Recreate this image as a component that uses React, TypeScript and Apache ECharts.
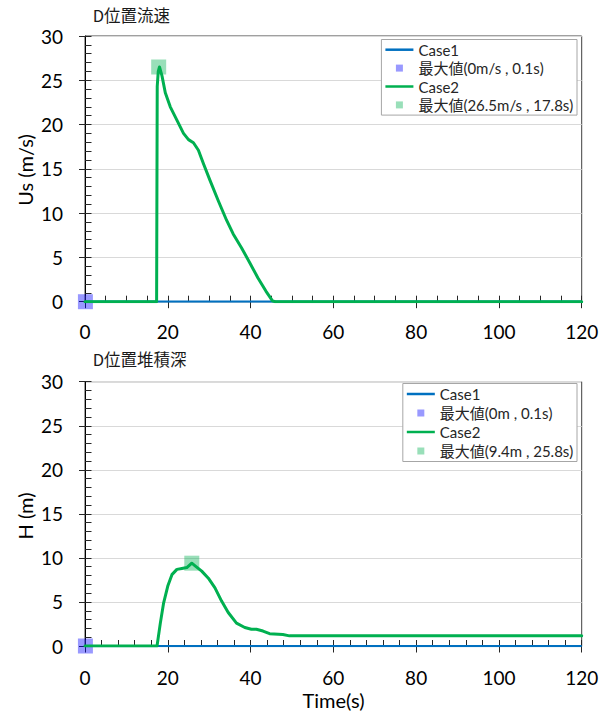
import React, { useEffect, useRef } from 'react';
import * as echarts from 'echarts';

// ---------- data ----------
const case1Time = [0, 20, 40, 60, 80, 100, 120];
const usCase1 = [0, 0, 0, 0, 0, 0, 0];
const hCase1 = [0, 0, 0, 0, 0, 0, 0];

const usCase2Time = [0, 17.3, 17.45, 17.7, 18.0, 18.6, 19.4, 20.6, 22.2, 23.8, 25.0, 26.2, 27.4, 28.6, 30.2, 32.2, 34.2, 35.8, 37.8, 39.8, 41.75, 43.7, 45.3, 46.0, 120];
const usCase2 = [0, 0, 24.3, 26.0, 26.5, 25.5, 23.6, 22.0, 20.5, 19.0, 18.3, 17.95, 17.1, 15.6, 13.7, 11.4, 9.2, 7.65, 6.1, 4.4, 2.7, 1.2, 0.1, 0, 0];

const hCase2Time = [0, 17.4, 18.2, 19.0, 20.0, 21.0, 22.2, 23.4, 24.6, 25.8, 26.6, 28.2, 29.8, 31.4, 33.0, 34.6, 36.6, 38.6, 40.2, 41.4, 43.0, 44.6, 47.8, 49.4, 120];
const hCase2 = [0, 0, 2.6, 4.9, 6.8, 8.1, 8.7, 8.8, 8.9, 9.4, 9.1, 8.5, 7.7, 6.6, 5.1, 3.8, 2.6, 2.1, 1.9, 1.9, 1.7, 1.4, 1.3, 1.15, 1.15];

const usMax1 = [0.1, 0];
const usMax2 = [17.8, 26.5];
const hMax1 = [0.1, 0];
const hMax2 = [25.8, 9.4];

const usLegend = ['Case1', '最大値(0m/s , 0.1s)', 'Case2', '最大値(26.5m/s , 17.8s)'];
const hLegend = ['Case1', '最大値(0m , 0.1s)', 'Case2', '最大値(9.4m , 25.8s)'];

const titles = ['D位置流速', 'D位置堆積深'];
const yNames = ['Us (m/s)', 'H (m)'];
const xName = 'Time(s)';

const X_MIN = 0, X_MAX = 120, X_INTERVAL = 20;
const Y_MIN = 0, Y_MAX = 30, Y_INTERVAL = 5;

// ---------- styles ----------
const FONT = "Lato, 'Noto Sans CJK JP', sans-serif";
const CJK = "'Noto Sans CJK JP', sans-serif";
const BLUE = '#0070C0';
const GREEN = '#00B050';
const BLUE_MK = 'rgba(0,0,255,0.5)';
const GREEN_MK = 'rgba(0,176,80,0.5)';
const TICK = '#262626';
const LINE_ICON = 'path://M0,0L28,0L28,2.5L0,2.5Z';
const SQUARE_ICON = 'path://M0,0L1,0L1,1L0,1Z';

function zip(xs: number[], ys: number[]) {
  return xs.map((x, i) => [x, ys[i]]);
}

function xAxes(gridIndex: number, minorSplit: number, labelMargin: number) {
  return [
    {
      gridIndex, type: 'value', min: X_MIN, max: X_MAX, interval: X_INTERVAL, position: 'bottom',
      axisLine: { show: true, onZero: false, lineStyle: { color: '#000', width: 1 } },
      axisTick: { show: true, inside: true, length: 6, lineStyle: { color: TICK } },
      minorTick: { show: true, splitNumber: minorSplit, length: 6, lineStyle: { color: TICK } },
      axisLabel: { show: true, margin: labelMargin, fontFamily: FONT, fontSize: 19, color: '#000' },
      splitLine: { show: false },
    },
    {
      gridIndex, type: 'value', min: X_MIN, max: X_MAX, interval: X_INTERVAL, position: 'bottom',
      axisLine: { show: false, onZero: false },
      axisTick: { show: true, inside: false, length: 6.5, lineStyle: { color: TICK } },
      axisLabel: { show: false },
      splitLine: { show: false },
    },
  ];
}

function yAxes(gridIndex: number) {
  return [
    {
      gridIndex, type: 'value', min: Y_MIN, max: Y_MAX, interval: Y_INTERVAL, position: 'left',
      axisLine: { show: true, onZero: false, lineStyle: { color: '#000', width: 1 } },
      axisTick: { show: true, inside: true, length: 6.5, lineStyle: { color: TICK } },
      minorTick: { show: true, splitNumber: 5, length: 6.5, lineStyle: { color: TICK } },
      axisLabel: { show: true, margin: 22, fontFamily: FONT, fontSize: 19, color: '#000' },
      splitLine: { show: true, lineStyle: { color: '#D9D9D9', width: 1 } },
    },
    {
      gridIndex, type: 'value', min: Y_MIN, max: Y_MAX, interval: Y_INTERVAL, position: 'left',
      axisLine: { show: false, onZero: false },
      axisTick: { show: true, inside: false, length: 6, lineStyle: { color: TICK } },
      axisLabel: { show: false },
      splitLine: { show: false },
    },
  ];
}

function legendFor(names: string[], top: number, lineHeight: number) {
  return {
    orient: 'vertical',
    right: 29,
    top,
    padding: [1, 4, 1, 4],
    itemGap: 0,
    itemWidth: 28,
    itemHeight: 7,
    selectedMode: false,
    symbolKeepAspect: true,
    backgroundColor: '#fff',
    borderColor: '#A6A6A6',
    borderWidth: 1,
    borderRadius: 0,
    textStyle: { fontFamily: FONT, fontSize: 15, color: '#262626', lineHeight },
    data: [
      { name: names[0], icon: LINE_ICON },
      { name: names[1], icon: SQUARE_ICON },
      { name: names[2], icon: LINE_ICON },
      { name: names[3], icon: SQUARE_ICON },
    ],
  };
}

function seriesFor(names: string[], axisBase: number, c1: number[][], c2: number[][], m1: number[], m2: number[]) {
  return [
    {
      name: names[1], type: 'scatter', symbol: 'rect', symbolSize: 15,
      xAxisIndex: axisBase, yAxisIndex: axisBase, z: 1,
      itemStyle: { color: BLUE_MK }, data: [m1],
    },
    {
      name: names[3], type: 'scatter', symbol: 'rect', symbolSize: 15,
      xAxisIndex: axisBase, yAxisIndex: axisBase, z: 1,
      itemStyle: { color: GREEN_MK }, data: [m2],
    },
    {
      name: names[0], type: 'line', symbol: 'none', showSymbol: false,
      xAxisIndex: axisBase, yAxisIndex: axisBase, z: 3,
      lineStyle: { color: BLUE, width: 2.25 }, itemStyle: { color: BLUE },
      data: c1,
    },
    {
      name: names[2], type: 'line', symbol: 'none', showSymbol: false,
      xAxisIndex: axisBase, yAxisIndex: axisBase, z: 4,
      lineStyle: { color: GREEN, width: 3, join: 'round', cap: 'round' }, itemStyle: { color: GREEN },
      data: c2,
    },
  ];
}

export default function App() {
  const ref = useRef<HTMLDivElement>(null);

  useEffect(() => {
    document.body.style.margin = '0';
    const chart = echarts.init(ref.current!, undefined, { renderer: 'svg' });
    const gridStyle = { show: true, borderColor: '#404040', borderWidth: 1, backgroundColor: 'transparent' };

    const option = {
      animation: false,
      grid: [
        { left: 85, right: 24.3, top: 36, bottom: 409.3, ...gridStyle },
        { left: 85, right: 24.3, top: 381.7, bottom: 65, ...gridStyle },
      ],
      xAxis: [...xAxes(0, 4, 20), ...xAxes(1, 5, 22)],
      yAxis: [...yAxes(0), ...yAxes(1)],
      legend: [legendFor(usLegend, 39.5, 18.4), legendFor(hLegend, 383.5, 19)],
      series: [
        ...seriesFor(usLegend, 0, zip(case1Time, usCase1), zip(usCase2Time, usCase2), usMax1, usMax2),
        ...seriesFor(hLegend, 2, zip(case1Time, hCase1), zip(hCase2Time, hCase2), hMax1, hMax2),
      ],
      graphic: [
        { type: 'text', left: 92.7, top: 6.5, style: { text: titles[0], fontFamily: CJK, fontSize: 16.5, fill: '#1a1a1a' } },
        { type: 'text', x: 25, y: 170, rotation: Math.PI / 2, style: { text: yNames[0], fontFamily: FONT, fontSize: 20, fill: '#000', align: 'center', verticalAlign: 'middle' } },
        { type: 'text', left: 92.7, top: 350.5, style: { text: titles[1], fontFamily: CJK, fontSize: 16.5, fill: '#1a1a1a' } },
        { type: 'text', x: 25, y: 516, rotation: Math.PI / 2, style: { text: yNames[1], fontFamily: FONT, fontSize: 20, fill: '#000', align: 'center', verticalAlign: 'middle' } },
        { type: 'text', x: 333.5, y: 699.5, style: { text: xName, fontFamily: FONT, fontSize: 20, fill: '#000', align: 'center', verticalAlign: 'middle' } },
      ],
    };

    chart.setOption(option as any);
    return () => {
      chart.dispose();
    };
  }, []);

  return <div ref={ref} style={{ width: 606, height: 711 }} />;
}
